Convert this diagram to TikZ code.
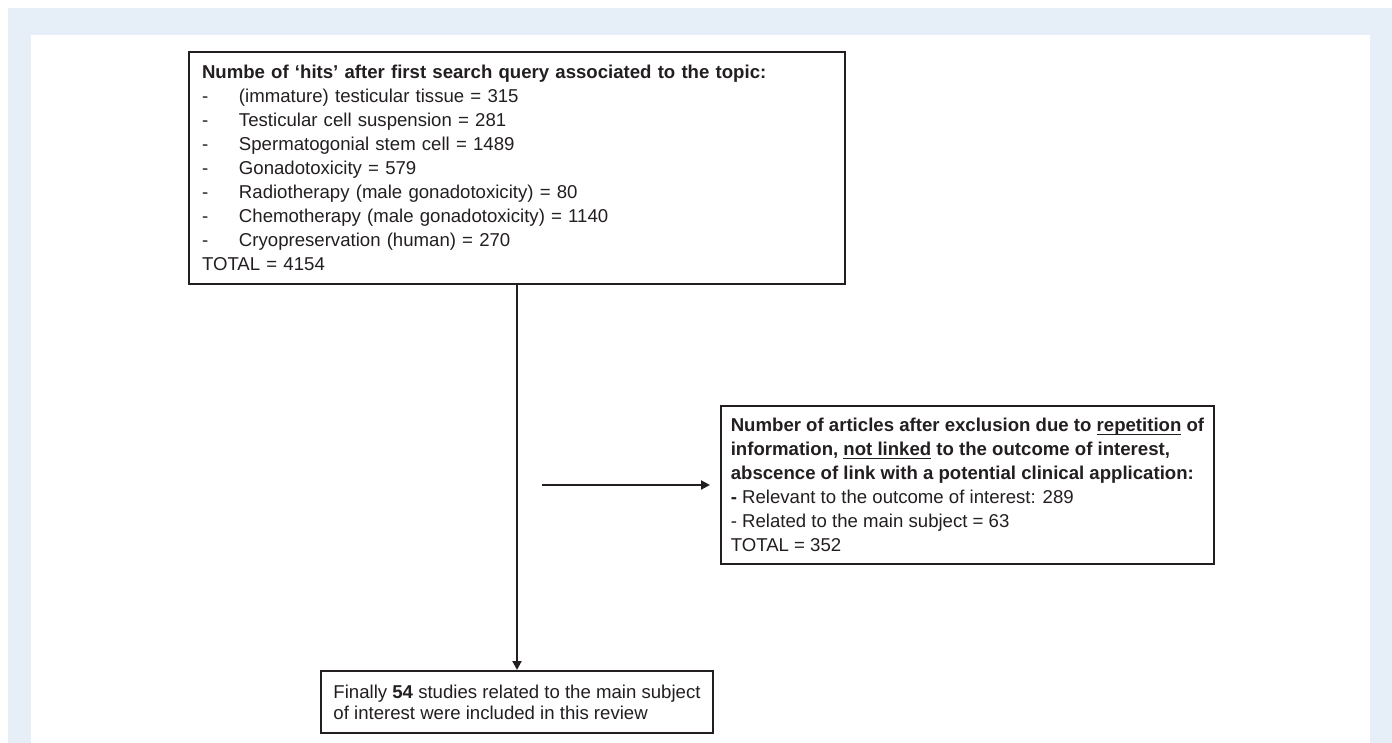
\documentclass[tikz,border=0pt]{standalone}
\usepackage{fontspec}
\setmainfont{Liberation Sans}
\usetikzlibrary{arrows.meta}
\definecolor{bandblue}{RGB}{230,238,248}
\definecolor{inkgray}{RGB}{35,31,32}
% 下划线
\newcommand{\ulword}[1]{\setbox0\hbox{#1}\rlap{\rule[-1.6pt]{\wd0}{0.6pt}}\box0\relax}

\begin{document}
\begin{tikzpicture}[x=0.5pt,y=-0.5pt,
    box/.style={draw=inkgray,line width=1pt,anchor=north west,align=left,
      text=inkgray,font=\fontsize{9.3}{12}\selectfont,inner ysep=0pt},
    link/.style={draw=inkgray,line width=1pt,-{Triangle[length=4.5pt,width=4.5pt]}}]
  % 画布大小与浅蓝色边框
  \useasboundingbox (0,0) rectangle (1392,743);
  \fill[bandblue] (8,8) rectangle (1392,743);
  \fill[white] (31,35) rectangle (1370,743);

  % 检索结果
  \node[box,text width=315pt,inner xsep=6.5pt,minimum height=116pt] (hits) at (188,51) {%
    \textbf{Numbe of ‘hits’ after first search query associated to the topic:}\\
    \makebox[18.5pt][l]{-}(immature) testicular tissue = 315\\
    \makebox[18.5pt][l]{-}Testicular cell suspension = 281\\
    \makebox[18.5pt][l]{-}Spermatogonial stem cell = 1489\\
    \makebox[18.5pt][l]{-}Gonadotoxicity = 579\\
    \makebox[18.5pt][l]{-}Radiotherapy (male gonadotoxicity) = 80\\
    \makebox[18.5pt][l]{-}Chemotherapy (male gonadotoxicity) = 1140\\
    \makebox[18.5pt][l]{-}Cryopreservation (human) = 270\\
    TOTAL = 4154};

  % 排除后的文章
  \node[box,minimum width=246.5pt,minimum height=79pt] (excl) at (720,405) {%
    \textbf{Number of articles after exclusion due to \ulword{repetition} of}\\
    \textbf{information, \ulword{not linked} to the outcome of interest,}\\
    \textbf{abscence of link with a potential clinical application:}\\
    \textbf{-} Relevant to the outcome of interest: 289\\
    - Related to the main subject = 63\\
    TOTAL = 352};

  % 最终纳入的研究
  \node[box,minimum width=196pt,minimum height=31pt,
    font=\fontsize{9.3}{10.5}\selectfont] (final) at (320,670) {%
    Finally \textbf{54} studies related to the main subject\\
    of interest were included in this review};

  % 箭头
  \coordinate (split) at (542,0);
  \draw[link] (hits) -- (final);
  \draw[link,shorten >=5pt] (split |- excl.west) -- (excl.west);
\end{tikzpicture}
\end{document}
